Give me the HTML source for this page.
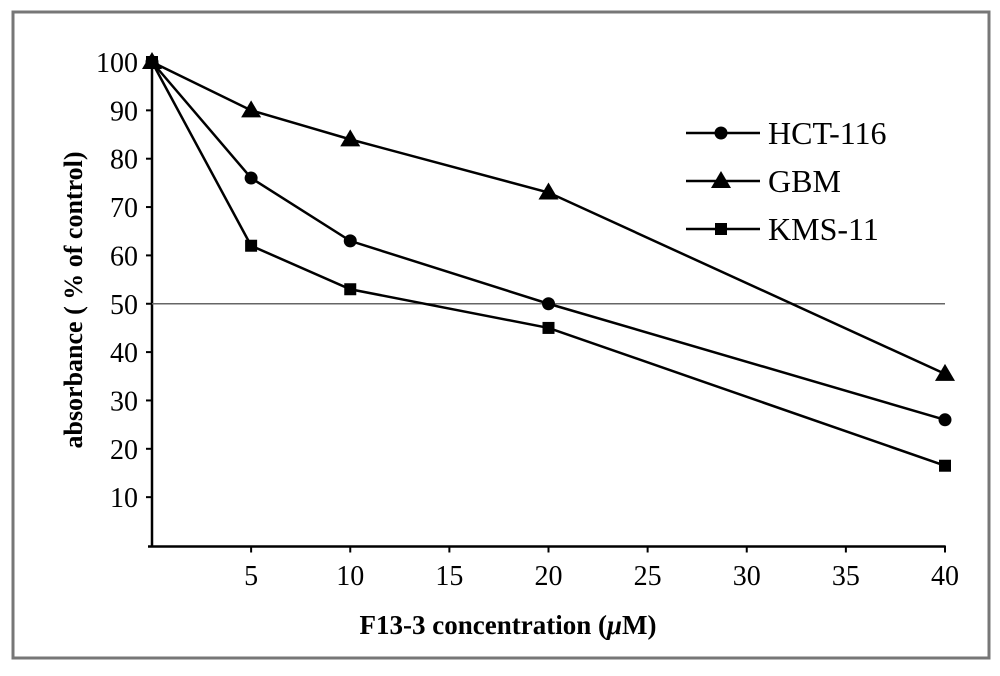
<!DOCTYPE html>
<html><head><meta charset="utf-8"><style>
body{margin:0;background:#fff;}
svg text{font-family:"Liberation Serif",serif;}
</style></head><body>
<svg id="chart" width="1000" height="671" xmlns="http://www.w3.org/2000/svg">
<rect x="13" y="12" width="976" height="646" fill="#fff" stroke="#777" stroke-width="3"/>
<g id="axes"></g>
<g id="series"></g>
<g id="legend"></g>
<text x="508" y="634" font-size="27" font-weight="bold" text-anchor="middle">F13-3 concentration (<tspan font-style="italic">μ</tspan>M)</text>
<text transform="translate(82,300) rotate(-90)" font-size="26" font-weight="bold" text-anchor="middle">absorbance ( % of control)</text>
</svg>
<script>
const xValues=[0,5,10,20,40];
const xTicks=[5,10,15,20,25,30,35,40];
const yTicks=[10,20,30,40,50,60,70,80,90,100];
const hct=[100,76,63,50,26];
const gbm=[100,90,84,73,35.5];
const kms=[100,62,53,45,16.5];
const seriesNames=["HCT-116","GBM","KMS-11"];
const refLine=50;
const NS="http://www.w3.org/2000/svg";
const X=v=>152+v*(945-152)/40;
const Y=v=>545.5-v*4.835;
function mk(tag,attrs,parent){const e=document.createElementNS(NS,tag);for(const k in attrs)e.setAttribute(k,attrs[k]);parent.appendChild(e);return e;}
const ax=document.getElementById('axes'),sg=document.getElementById('series'),lg=document.getElementById('legend');
let e=mk('line',{x1:152,y1:60,x2:152,y2:Y(0)+2,stroke:'#000','stroke-width':2.5},ax);


e=mk('line',{x1:148,y1:Y(0)+1,x2:945,y2:Y(0)+1,stroke:'#000','stroke-width':2.5},ax);


yTicks.forEach(t=>{
 mk('line',{x1:146,y1:Y(t),x2:152,y2:Y(t),stroke:'#000','stroke-width':2},ax);
 const tx=mk('text',{x:138,y:Y(t)+10,'font-size':28,'text-anchor':'end'},ax);tx.textContent=t;
 
 
});
xTicks.forEach(t=>{
 mk('line',{x1:X(t),y1:Y(0),x2:X(t),y2:Y(0)+7,stroke:'#000','stroke-width':2},ax);
 const tx=mk('text',{x:X(t),y:585,'font-size':28,'text-anchor':'middle'},ax);tx.textContent=t;
 
 
});
e=mk('line',{x1:152,y1:Y(refLine),x2:945,y2:Y(refLine),stroke:'#666','stroke-width':1.5},ax);


function marker(type,x,y,p){
 if(type==0)return mk('circle',{cx:x,cy:y,r:6.5,fill:'#000'},p);
 if(type==1)return mk('polygon',{points:`${x},${y-10} ${x-10},${y+7} ${x+10},${y+7}`,fill:'#000'},p);
 return mk('rect',{x:x-6,y:y-6,width:12,height:12,fill:'#000'},p);
}
[hct,gbm,kms].forEach((s,i)=>{
 const g=mk('g',{},sg);
 
 
 const pl=mk('polyline',{points:s.map((v,j)=>X(xValues[j])+','+Y(v)).join(' '),fill:'none',stroke:'#000','stroke-width':2.5},g);
 
 
 s.forEach((v,j)=>{const m=marker(i,X(xValues[j]),Y(v),g);
  
  });
 const ly=133+i*48;
 mk('line',{x1:686,y1:ly,x2:760,y2:ly,stroke:'#000','stroke-width':2.5},lg);
 marker(i,721,ly,lg);
 const t=mk('text',{x:768,y:ly+11,'font-size':32},lg);t.textContent=seriesNames[i];
 
 
});
</script>
</body></html>
